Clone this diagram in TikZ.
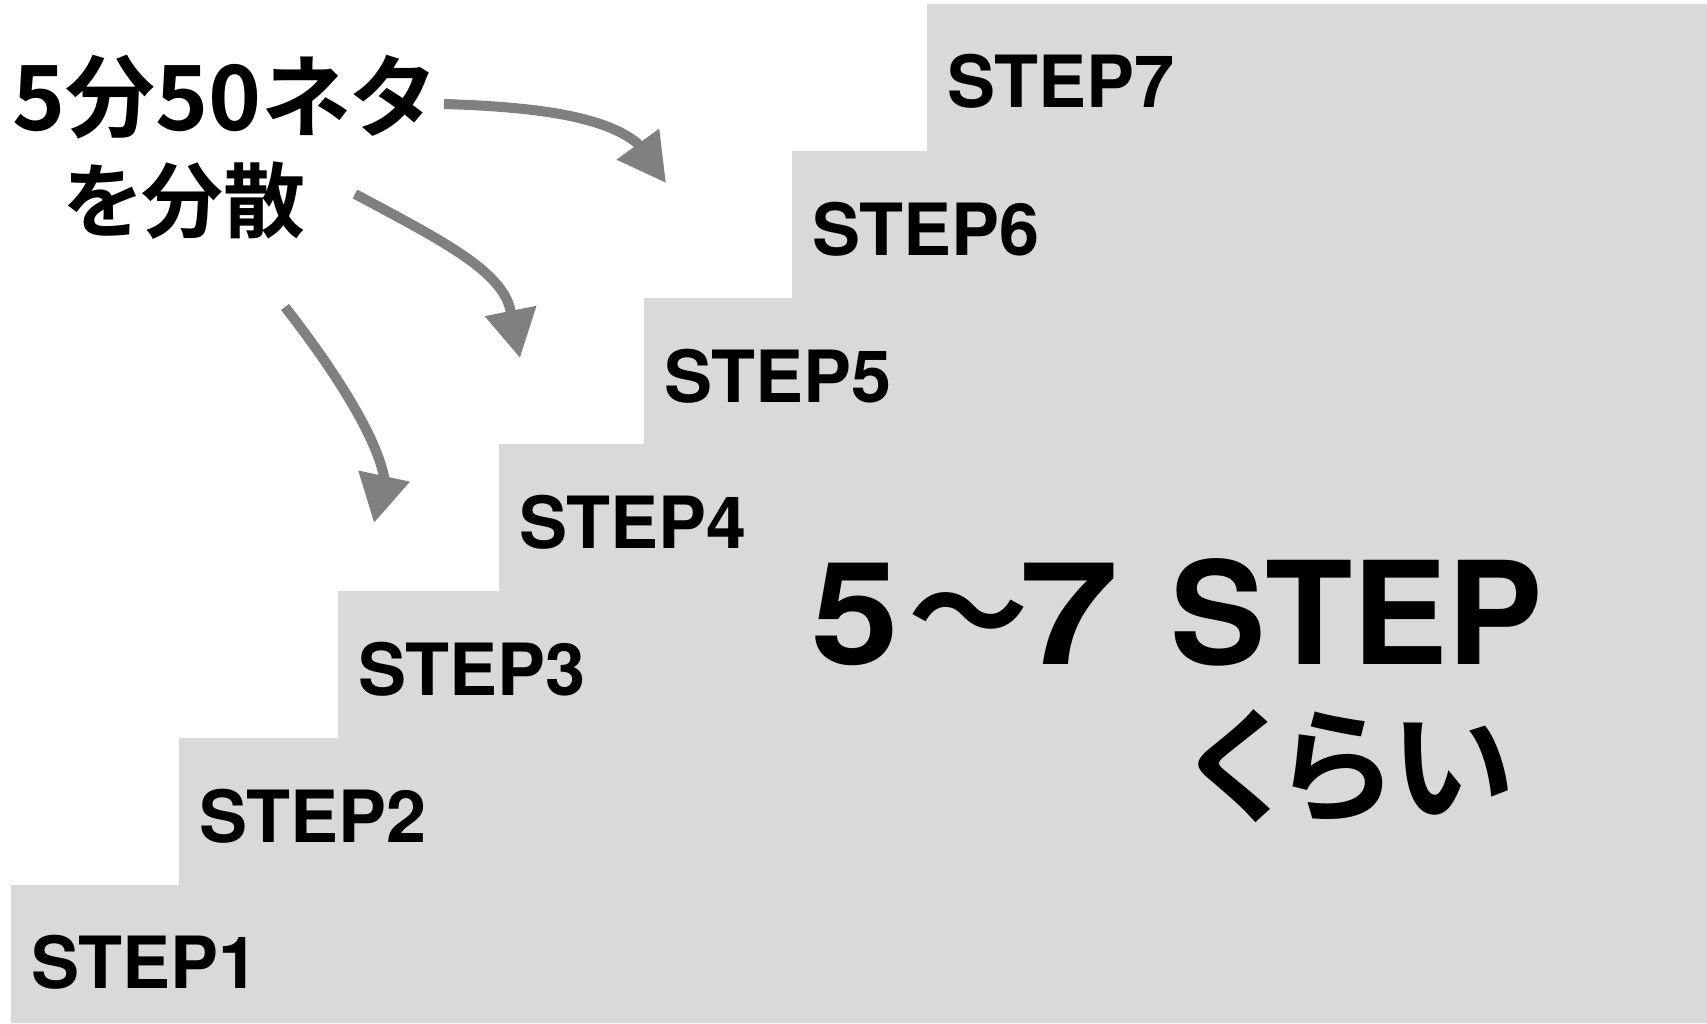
\documentclass[tikz,border=0pt]{standalone}
\usepackage{graphicx}
\usepackage{fontspec}
\setmainfont{TeX Gyre Heros}
\newfontfamily\jp{Noto Sans CJK JP}[BoldFont={Noto Sans CJK JP Bold}]
\newfontfamily\jpp{Noto Sans CJK JP}[BoldFont={Noto Sans CJK JP Bold},RawFeature=+palt]
\usetikzlibrary{arrows.meta}
\definecolor{stairgray}{HTML}{D9D9D9}
\definecolor{arrowgray}{HTML}{808080}
\begin{document}
\begin{tikzpicture}[x=1pt,y=-1pt,
  steplabel/.style={anchor=base west,inner sep=0pt,text=black,font=\bfseries\fontsize{72}{80}\selectfont},
  titletext/.style={anchor=base west,inner sep=0pt,text=black,font=\jpp\bfseries\fontsize{90}{94}\selectfont},
  flow/.style={draw=arrowgray,arrowgray,line width=10pt,line join=round,-{Triangle[length=48pt,width=50pt]}}]
\useasboundingbox (0,0) rectangle (1707,1024);
% staircase
\fill[stairgray] (11,1023) -- (11,885) -- (179,885) -- (179,738) -- (338,738) -- (338,591)
  -- (499,591) -- (499,444) -- (644,444) -- (644,298) -- (792,298) -- (792,151)
  -- (927,151) -- (927,4) -- (1707,4) -- (1707,1023) -- cycle;
% step labels
\node[steplabel] (s1) at (31,988) {STEP1};
\node[steplabel] (s2) at (199,842) {STEP2};
\node[steplabel] (s3) at (358,695) {STEP3};
\node[steplabel] (s4) at (519,548) {STEP4};
\node[steplabel] (s5) at (664,402) {STEP5};
\node[steplabel] (s6) at (812,256) {STEP6};
\node[steplabel] (s7) at (947,108) {STEP7};
% title
\node[titletext] (t1) at (12,131) {5分50ネタ};
\node[titletext,font=\jpp\bfseries\fontsize{82}{86}\selectfont] (t2) at (63,232) {を分散};
% big text
\node[anchor=base west,inner sep=0pt,font=\bfseries\fontsize{143}{150}\selectfont] (big) at (811,664)
  {\scalebox{1.1}[1]{5}\hspace{9.5pt}\raisebox{8pt}{\jp\fontsize{120}{130}\selectfont 〜}\hspace{-9pt}\scalebox{1.25}[1]{7}\hspace{52pt}STEP};
\node[anchor=base west,inner sep=0pt,font=\jpp\bfseries\fontsize{125}{130}\selectfont] (kurai) at (1188,812) {くらい};
% arrows
\coordinate (a1s) at (444,104);
\coordinate (a1b) at (637,143);
\coordinate (a1t) at (666,183);
\coordinate (a2s) at (355,194);
\coordinate (a2b) at (510.5,310.5);
\coordinate (a2t) at (520,358);
\coordinate (a3s) at (285,307);
\coordinate (a3b) at (384,476.5);
\coordinate (a3t) at (374,523);
\draw[flow] (a1s) .. controls (540,107) and (605,117) .. (a1b) -- (a1t);
\draw[flow] (a2s) .. controls (443,241) and (502,271) .. (a2b) -- (a2t);
\draw[flow] (a3s) .. controls (328,362) and (375,432) .. (a3b) -- (a3t);
\end{tikzpicture}
\end{document}
